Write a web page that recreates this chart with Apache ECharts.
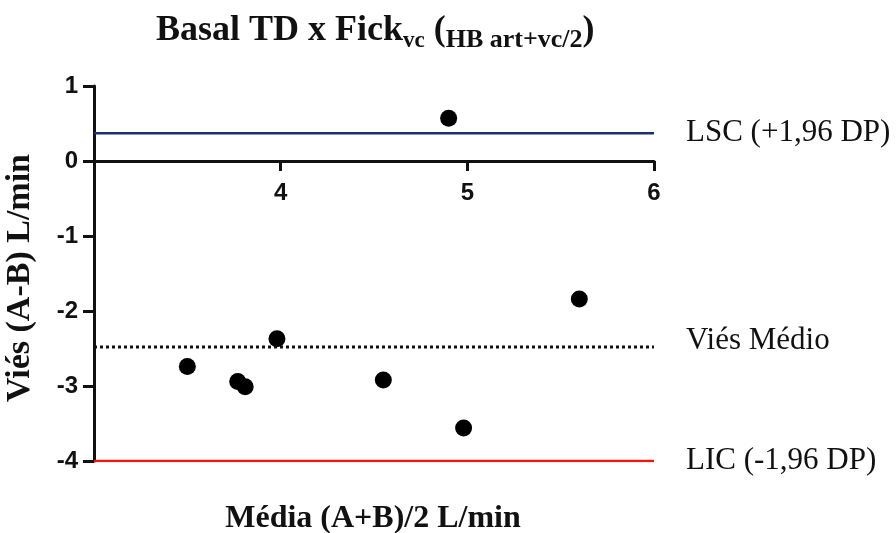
<!DOCTYPE html>
<html>
<head>
<meta charset="utf-8">
<style>
  html, body { margin: 0; padding: 0; background: #fff; }
  #chart { width: 896px; height: 533px; }
</style>
<script src="https://cdn.jsdelivr.net/npm/echarts@6/dist/echarts.min.js"></script>
</head>
<body>
<div id="chart"></div>
<script>
// Bland-Altman: mean of the two methods vs. their difference
const meanAB = [3.50, 3.77, 3.81, 3.98, 4.55, 4.90, 4.98, 5.60];
const diffAB = [-2.74, -2.94, -3.01, -2.37, -2.92, 0.57, -3.56, -1.84];

// Agreement limits and mean bias
const upperLimit = 0.37;
const meanBias = -2.48;
const lowerLimit = -4.0;
const limitLabels = ['LSC (+1,96 DP)', 'Viés Médio', 'LIC (-1,96 DP)'];

// Axis ranges
const xRange = [3, 6];
const yRange = [-4, 1];

const serif = '"Liberation Serif", "Times New Roman", serif';
const sans = '"Liberation Sans", Arial, sans-serif';

const gridTop = 86, gridBottom = 72, chartH = 533;
const plotH = chartH - gridTop - gridBottom;
// pixel distance from the bottom of the plot up to the y = 0 line
const zeroLift = plotH * (0 - yRange[0]) / (yRange[1] - yRange[0]);

const points = meanAB.map((x, i) => [x, diffAB[i]]);

function limitLine(value, label, color, type, labelOffsetY) {
  return {
    type: 'line',
    data: [[xRange[0], value], [xRange[1], value]],
    symbol: 'none',
    silent: true,
    lineStyle: { color: color, width: type === 'dotted' ? 3 : 2.5, type: type },
    endLabel: {
      show: true, distance: 32, formatter: label, color: '#111',
      fontFamily: serif, fontSize: 31, offset: [0, labelOffsetY]
    },
    z: 1
  };
}

const tickFont = { color: '#111', fontFamily: sans, fontWeight: 'bold', fontSize: 24 };

const chart = echarts.init(document.getElementById('chart'));
chart.setOption({
  animation: false,
  title: {
    left: 151, top: 0,
    text: '{a|Basal TD x Fick}{b|vc}{a| (}{c|HB art+vc/2}{a|)}',
    textStyle: {
      rich: {
        a: { fontFamily: serif, fontWeight: 'bold', fontSize: 36, color: '#111', lineHeight: 44, verticalAlign: 'bottom' },
        b: { fontFamily: serif, fontWeight: 'bold', fontSize: 23, color: '#111', lineHeight: 44, verticalAlign: 'bottom', padding: [0, 0, -4, 0] },
        c: { fontFamily: serif, fontWeight: 'bold', fontSize: 26, color: '#111', lineHeight: 44, verticalAlign: 'bottom', padding: [0, 0, -4, 0] }
      }
    }
  },
  grid: { left: 94, right: 242, top: gridTop, bottom: gridBottom, containLabel: false },
  xAxis: [
    {
      type: 'value', min: xRange[0], max: xRange[1], interval: 1,
      axisLine: { onZero: true, lineStyle: { color: '#111', width: 3 } },
      axisTick: { show: true, length: 10, lineStyle: { color: '#111', width: 3 } },
      axisLabel: { show: false },
      splitLine: { show: false }
    },
    {
      // tick labels placed under the zero line
      type: 'value', min: xRange[0], max: xRange[1], interval: 1,
      position: 'bottom', offset: -zeroLift,
      axisLine: { show: false },
      axisTick: { show: false },
      axisLabel: Object.assign({ margin: 20, formatter: v => (v === xRange[0] ? '' : String(v)) }, tickFont),
      splitLine: { show: false }
    }
  ],
  yAxis: {
    type: 'value', min: yRange[0], max: yRange[1], interval: 1,
    axisLine: { show: true, onZero: false, lineStyle: { color: '#111', width: 3 } },
    axisTick: { show: true, length: 11, lineStyle: { color: '#111', width: 3 } },
    axisLabel: Object.assign({ margin: 16 }, tickFont),
    splitLine: { show: false }
  },
  graphic: [
    {
      type: 'text', x: 20, y: 278, rotation: Math.PI / 2,
      style: {
        text: 'Viés (A-B) L/min', fontFamily: serif, fontWeight: 'bold', fontSize: 34,
        fill: '#111', textAlign: 'center', textVerticalAlign: 'middle'
      }
    },
    {
      type: 'text', x: 373, y: 519,
      style: {
        text: 'Média (A+B)/2 L/min', fontFamily: serif, fontWeight: 'bold', fontSize: 32,
        fill: '#111', textAlign: 'center', textVerticalAlign: 'middle'
      }
    }
  ],
  series: [
    limitLine(upperLimit, limitLabels[0], '#1b2f6e', 'solid', 0),
    limitLine(meanBias, limitLabels[1], '#111', 'dotted', -6),
    limitLine(lowerLimit, limitLabels[2], '#ff1010', 'solid', 0),
    {
      type: 'scatter',
      data: points,
      symbol: 'circle',
      symbolSize: 17,
      itemStyle: { color: '#000', opacity: 1 },
      z: 5
    }
  ]
});
</script>
</body>
</html>
